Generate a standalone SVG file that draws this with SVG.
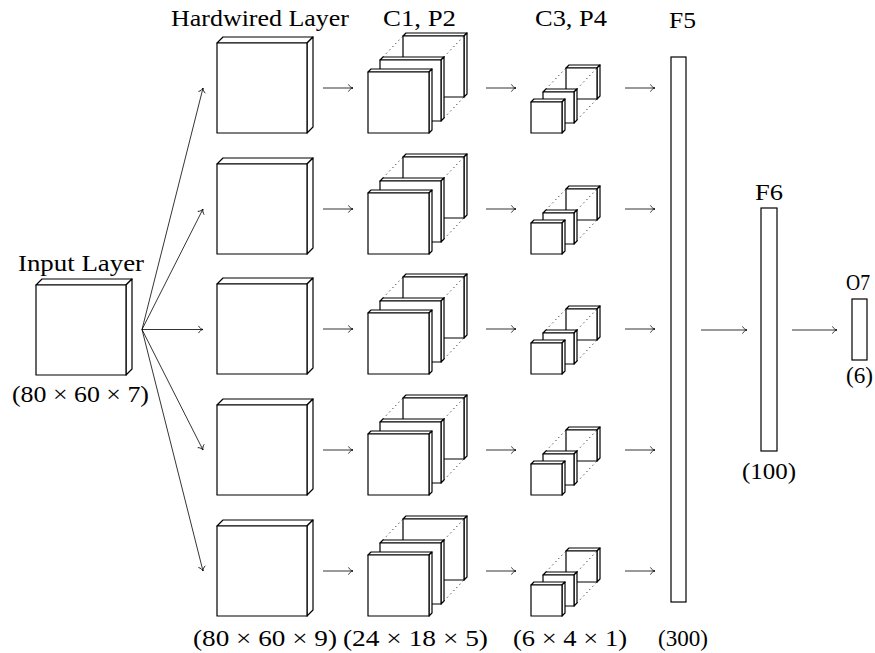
<svg xmlns="http://www.w3.org/2000/svg" width="875" height="653" viewBox="0 0 875 653">
  <style>
    .face{fill:#fff;stroke:#000;stroke-width:1.2;stroke-linejoin:round}
    .bar{fill:#fff;stroke:#000;stroke-width:1.2}
    .dots{fill:none;stroke:#000;stroke-width:1;stroke-dasharray:1 3.5}
    #connectors line{stroke:#000;stroke-width:0.8;marker-end:url(#arr)}
  </style>
  <defs>
    <marker id="arr" viewBox="-6 -5 8 10" refX="0" refY="0" markerWidth="8" markerHeight="10" markerUnits="userSpaceOnUse" orient="auto">
      <path d="M-4.5,-3.6 C-3.6,-1.6 -1.6,-0.4 0,0 C-1.6,0.4 -3.6,1.6 -4.5,3.6" fill="none" stroke="#000" stroke-width="0.8"/>
    </marker>
    <!-- 90x90 block, depth 6 -->
    <g id="cube90">
      <polygon class="face" points="0,0 6,-6 96,-6 90,0"/>
      <polygon class="face" points="90,0 96,-6 96,84 90,90"/>
      <rect class="face" x="0" y="0" width="90" height="90"/>
    </g>
    <!-- 61x61 feature map, depth 3 -->
    <g id="cube61">
      <polygon class="face" points="0,0 3,-3 64,-3 61,0"/>
      <polygon class="face" points="61,0 64,-3 64,58 61,61"/>
      <rect class="face" x="0" y="0" width="61" height="61"/>
    </g>
    <!-- 31x31 feature map, depth 3 -->
    <g id="cube31">
      <polygon class="face" points="0,0 3,-3 34,-3 31,0"/>
      <polygon class="face" points="31,0 34,-3 34,28 31,31"/>
      <rect class="face" x="0" y="0" width="31" height="31"/>
    </g>
    <!-- stack of C1/P2 maps -->
    <g id="stackC">
      <use href="#cube61" x="35" y="-36"/>
      <path class="dots" d="M12,-12 L35,-36 M73,-12 L96,-36 M73,49 L96,25"/>
      <use href="#cube61" x="12" y="-12"/>
      <use href="#cube61" x="0" y="0"/>
    </g>
    <!-- stack of C3/P4 maps -->
    <g id="stackP">
      <use href="#cube31" x="35" y="-34"/>
      <path class="dots" d="M12,-10 L35,-34 M43,-10 L66,-34 M43,21 L66,-3"/>
      <use href="#cube31" x="12" y="-10"/>
      <use href="#cube31" x="0" y="0"/>
    </g>
  </defs>

  <rect width="875" height="653" fill="#fff"/>

  <g font-family="Liberation Serif" font-size="24" fill="#000">
  <!-- input -->
  <g id="input">
    <use href="#cube90" x="36" y="285"/>
    <text x="18" y="271" textLength="126" lengthAdjust="spacingAndGlyphs">Input Layer</text>
    <text x="12" y="402" textLength="137" lengthAdjust="spacingAndGlyphs">(80 × 60 × 7)</text>
  </g>

  <!-- hardwired layer -->
  <g id="hardwired">
    <text x="171" y="26" textLength="178" lengthAdjust="spacingAndGlyphs">Hardwired Layer</text>
    <g id="hw1"><use href="#cube90" x="217" y="43"/></g>
    <g id="hw2"><use href="#cube90" x="217" y="164"/></g>
    <g id="hw3"><use href="#cube90" x="217" y="284"/></g>
    <g id="hw4"><use href="#cube90" x="217" y="405"/></g>
    <g id="hw5"><use href="#cube90" x="217" y="526"/></g>
    <text x="193" y="646" textLength="144" lengthAdjust="spacingAndGlyphs">(80 × 60 × 9)</text>
  </g>

  <!-- C1, P2 -->
  <g id="c1p2">
    <text x="383" y="26" textLength="73" lengthAdjust="spacingAndGlyphs">C1, P2</text>
    <g id="c1-1"><use href="#stackC" x="368" y="72"/></g>
    <g id="c1-2"><use href="#stackC" x="368" y="193"/></g>
    <g id="c1-3"><use href="#stackC" x="368" y="313"/></g>
    <g id="c1-4"><use href="#stackC" x="368" y="434"/></g>
    <g id="c1-5"><use href="#stackC" x="368" y="555"/></g>
    <text x="343" y="646" textLength="145" lengthAdjust="spacingAndGlyphs">(24 × 18 × 5)</text>
  </g>

  <!-- C3, P4 -->
  <g id="c3p4">
    <text x="535" y="26" textLength="72" lengthAdjust="spacingAndGlyphs">C3, P4</text>
    <g id="c3-1"><use href="#stackP" x="531" y="102"/></g>
    <g id="c3-2"><use href="#stackP" x="531" y="223"/></g>
    <g id="c3-3"><use href="#stackP" x="531" y="343"/></g>
    <g id="c3-4"><use href="#stackP" x="531" y="464"/></g>
    <g id="c3-5"><use href="#stackP" x="531" y="585"/></g>
    <text x="513" y="646" textLength="114" lengthAdjust="spacingAndGlyphs">(6 × 4 × 1)</text>
  </g>

  <!-- fully connected layers -->
  <g id="f5">
    <rect class="bar" x="671" y="57" width="15" height="545"/>
    <text x="669" y="28" textLength="27" lengthAdjust="spacingAndGlyphs">F5</text>
    <text x="658" y="646" textLength="50" lengthAdjust="spacingAndGlyphs">(300)</text>
  </g>
  <g id="f6">
    <rect class="bar" x="761" y="208" width="16" height="243"/>
    <text x="755" y="200" textLength="28" lengthAdjust="spacingAndGlyphs">F6</text>
    <text x="742" y="479" textLength="54" lengthAdjust="spacingAndGlyphs">(100)</text>
  </g>
  <g id="o7">
    <rect class="bar" x="852" y="299" width="15" height="61"/>
    <text x="846" y="290" textLength="24" lengthAdjust="spacingAndGlyphs">O7</text>
    <text x="846" y="383" textLength="27" lengthAdjust="spacingAndGlyphs">(6)</text>
  </g>
  </g>

  <!-- connectors -->
  <g id="connectors">
    <line x1="142" y1="329.5" x2="203" y2="88"/>
    <line x1="142" y1="329.5" x2="203" y2="209"/>
    <line x1="142" y1="329.5" x2="203" y2="329.5"/>
    <line x1="142" y1="329.5" x2="203" y2="450"/>
    <line x1="142" y1="329.5" x2="203" y2="571"/>

    <line x1="323" y1="88" x2="353" y2="88"/>
    <line x1="323" y1="209" x2="353" y2="209"/>
    <line x1="323" y1="329" x2="353" y2="329"/>
    <line x1="323" y1="450" x2="353" y2="450"/>
    <line x1="323" y1="571" x2="353" y2="571"/>

    <line x1="486" y1="88" x2="516" y2="88"/>
    <line x1="486" y1="209" x2="516" y2="209"/>
    <line x1="486" y1="329" x2="516" y2="329"/>
    <line x1="486" y1="450" x2="516" y2="450"/>
    <line x1="486" y1="571" x2="516" y2="571"/>

    <line x1="625" y1="88" x2="655" y2="88"/>
    <line x1="625" y1="209" x2="655" y2="209"/>
    <line x1="625" y1="329" x2="655" y2="329"/>
    <line x1="625" y1="450" x2="655" y2="450"/>
    <line x1="625" y1="571" x2="655" y2="571"/>

    <line x1="701" y1="330" x2="747" y2="330"/>
    <line x1="792" y1="330" x2="837" y2="330"/>
  </g>
</svg>
